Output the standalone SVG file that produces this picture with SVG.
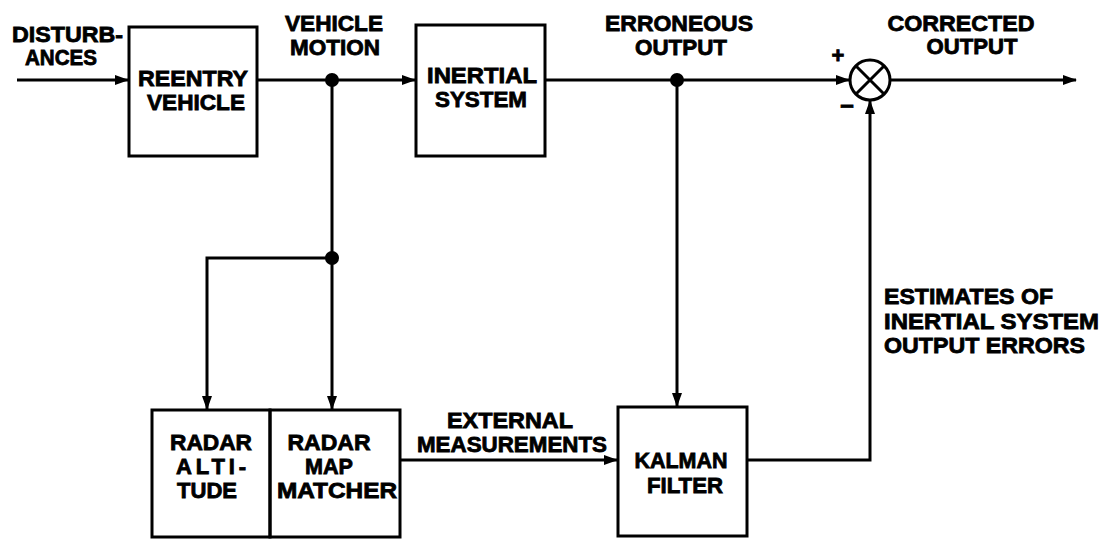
<svg xmlns="http://www.w3.org/2000/svg" width="1104" height="540" viewBox="0 0 1104 540">
<style>
text{font-family:"Liberation Sans",Arial,sans-serif;font-weight:bold;font-size:22px;fill:#000;stroke:#000;stroke-width:0.8px}
.c{text-anchor:middle}
.box{fill:none;stroke:#000;stroke-width:3}
.ln{fill:none;stroke:#000;stroke-width:3}
</style>
<defs>
<marker id="ah" markerUnits="userSpaceOnUse" markerWidth="14" markerHeight="12" refX="13" refY="5" orient="auto">
<path d="M0,0 L14,5 L0,10 Z" fill="#000"/>
</marker>
</defs>
<rect width="1104" height="540" fill="#fff"/>

<g id="connectors">
<path class="ln" d="M17,80 H128" marker-end="url(#ah)"/>
<path class="ln" d="M257,80 H415" marker-end="url(#ah)"/>
<path class="ln" d="M545,80 H849" marker-end="url(#ah)"/>
<path class="ln" d="M890,80 H1076" marker-end="url(#ah)"/>
<path class="ln" d="M332,80 V409" marker-end="url(#ah)"/>
<path class="ln" d="M332,258 H207 V409" marker-end="url(#ah)"/>
<path class="ln" d="M677,80 V406" marker-end="url(#ah)"/>
<path class="ln" d="M400,460 H617" marker-end="url(#ah)"/>
<path class="ln" d="M747,460 H870 V101" marker-end="url(#ah)"/>
<circle cx="332" cy="80" r="7" fill="#000"/>
<circle cx="332" cy="258" r="7" fill="#000"/>
<circle cx="677" cy="80" r="7" fill="#000"/>
</g>

<g id="labels">
<text x="12" y="42" textLength="111" lengthAdjust="spacingAndGlyphs">DISTURB-</text>
<text x="25" y="65" textLength="72" lengthAdjust="spacingAndGlyphs">ANCES</text>
<text class="c" x="334" y="31" textLength="98" lengthAdjust="spacingAndGlyphs">VEHICLE</text>
<text class="c" x="335" y="55" textLength="90" lengthAdjust="spacingAndGlyphs">MOTION</text>
<text class="c" x="679" y="31" textLength="148" lengthAdjust="spacingAndGlyphs">ERRONEOUS</text>
<text class="c" x="681" y="55" textLength="92" lengthAdjust="spacingAndGlyphs">OUTPUT</text>
<text class="c" x="961" y="31" textLength="147" lengthAdjust="spacingAndGlyphs">CORRECTED</text>
<text class="c" x="972" y="54" textLength="91" lengthAdjust="spacingAndGlyphs">OUTPUT</text>
<text class="c" x="510" y="428" textLength="126" lengthAdjust="spacingAndGlyphs">EXTERNAL</text>
<text class="c" x="512" y="452" textLength="190" lengthAdjust="spacingAndGlyphs">MEASUREMENTS</text>
<text x="884" y="304" textLength="169" lengthAdjust="spacingAndGlyphs">ESTIMATES OF</text>
<text x="884" y="329" textLength="215" lengthAdjust="spacingAndGlyphs">INERTIAL SYSTEM</text>
<text x="884" y="353" textLength="201" lengthAdjust="spacingAndGlyphs">OUTPUT ERRORS</text>
</g>

<g id="reentry-vehicle">
<rect class="box" x="129" y="27" width="128" height="129"/>
<text class="c" x="193" y="86" textLength="110" lengthAdjust="spacingAndGlyphs">REENTRY</text>
<text class="c" x="196" y="110" textLength="98" lengthAdjust="spacingAndGlyphs">VEHICLE</text>
</g>

<g id="inertial-system">
<rect class="box" x="416" y="25" width="129" height="131"/>
<text class="c" x="482" y="83" textLength="110" lengthAdjust="spacingAndGlyphs">INERTIAL</text>
<text class="c" x="481" y="107" textLength="92" lengthAdjust="spacingAndGlyphs">SYSTEM</text>
</g>

<g id="summing-junction">
<circle cx="870" cy="80" r="20" fill="#fff" stroke="#000" stroke-width="3"/>
<path d="M856,66 L884,94 M884,66 L856,94" stroke="#000" stroke-width="3"/>
<text class="c" x="838" y="63" style="font-size:22px">+</text>
<text class="c" x="847" y="114" style="font-size:24px">−</text>
</g>

<g id="radar-altitude">
<rect class="box" x="152" y="410" width="118" height="127"/>
<text class="c" x="211" y="450" textLength="82" lengthAdjust="spacingAndGlyphs">RADAR</text>
<text class="c" x="211" y="474" textLength="70" lengthAdjust="spacing">ALTI-</text>
<text class="c" x="207" y="498" textLength="60" lengthAdjust="spacingAndGlyphs">TUDE</text>
</g>

<g id="radar-map-matcher">
<rect class="box" x="270" y="410" width="130" height="127"/>
<text class="c" x="329" y="450" textLength="83" lengthAdjust="spacingAndGlyphs">RADAR</text>
<text class="c" x="329" y="474" textLength="48" lengthAdjust="spacingAndGlyphs">MAP</text>
<text class="c" x="337" y="498" textLength="120" lengthAdjust="spacingAndGlyphs">MATCHER</text>
</g>

<g id="kalman-filter">
<rect class="box" x="618" y="407" width="129" height="129"/>
<text class="c" x="681" y="468" textLength="93" lengthAdjust="spacingAndGlyphs">KALMAN</text>
<text class="c" x="685" y="493" textLength="76" lengthAdjust="spacingAndGlyphs">FILTER</text>
</g>
</svg>
